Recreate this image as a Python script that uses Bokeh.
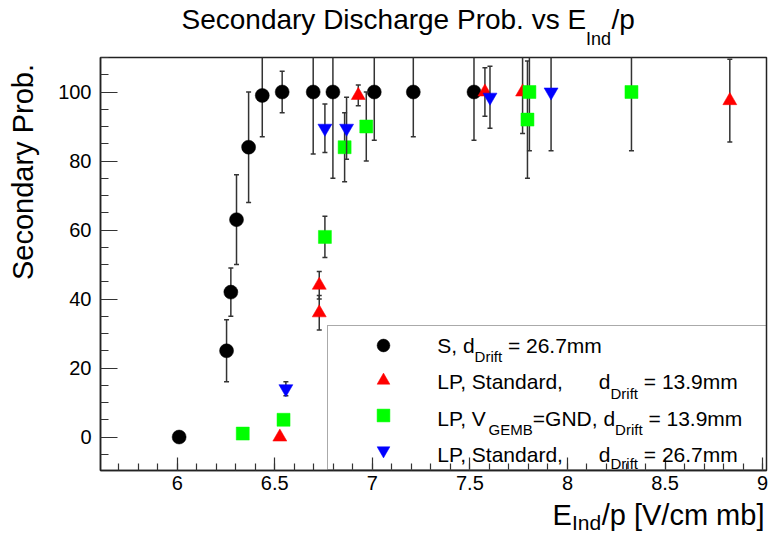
import math
from bokeh.plotting import figure
from bokeh.layouts import column, row
from bokeh.models import (Range1d, SingleIntervalTicker, CustomJSTickFormatter, Label,
                          Legend, LegendItem)
from bokeh.core.properties import value
from bokeh.embed import file_html
from bokeh.resources import INLINE

# ---- data ----
# S, d_Drift = 26.7mm
s_x = [6.010, 6.253, 6.275, 6.304, 6.366, 6.436, 6.538, 6.697, 6.798, 7.010, 7.210, 7.521]
s_y = [0, 25, 42, 63, 84, 99, 100, 100, 100, 100, 100, 100]
s_err = [0, 9, 7, 13, 16, 12, 6, 18, 25, 14, 13, 14]

# LP, Standard, d_Drift = 13.9mm
lp139_x = [6.526, 6.728, 6.728, 6.928, 7.577, 7.770, 8.832]
lp139_y = [0, 44, 36, 99, 100, 100, 97.5]
lp139_err = [0, 4, 5, 3, 7, 12, 12]

# LP, V_GEMB=GND, d_Drift = 13.9mm
gnd_x = [6.336, 6.545, 6.757, 6.858, 6.969, 7.795, 7.805, 8.328]
gnd_y = [1, 5, 58, 84, 90, 92, 100, 100]
gnd_err = [0, 0, 6, 10, 10, 17, 17, 17]

# LP, Standard, d_Drift = 26.7mm
lp267_x = [6.557, 6.757, 6.868, 7.603, 7.916]
lp267_y = [14, 89.5, 89.5, 98.5, 100]
lp267_err = [2, 7, 9, 9, 17]

x_ticks_interval = 0.5
y_ticks_interval = 20

FONT = "Liberation Sans"
MID = 0.3465  # distance baseline -> middle of text box, in em
W, H = 772, 534
TOP_H = 55
LEFT_W = 48
MAIN_H = 443
BOT_H = H - TOP_H - MAIN_H


def text_fig(w, h):
    f = figure(width=w, height=h, x_range=Range1d(0, w), y_range=Range1d(0, h),
               x_axis_type=None, y_axis_type=None, output_backend="svg",
               toolbar_location=None, min_border=0, title=None)
    f.outline_line_color = None
    f.xgrid.visible = False
    f.ygrid.visible = False
    return f


def txt(f, fig_bottom, x, base_y, text, size):
    """place text with its baseline at page row base_y"""
    f.text(x=[x], y=[fig_bottom - (base_y - MID * size)], text=[text],
           text_font=value(FONT), text_font_size=f"{size}px",
           text_color="black", text_baseline="middle", text_align="left")


# ---- main plot ----
p = figure(width=W - LEFT_W, height=MAIN_H, title=None,
           x_range=Range1d(5.607, 9.02), y_range=Range1d(-9.7, 110),
           output_backend="svg", toolbar_location=None,
           min_border_left=52, min_border_right=6, min_border_top=2, min_border_bottom=28)

p.xgrid.visible = False
p.ygrid.visible = False
p.outline_line_color = "#222222"
p.outline_line_width = 1.5

p.xaxis.ticker = SingleIntervalTicker(interval=x_ticks_interval, num_minor_ticks=5)
p.yaxis.ticker = SingleIntervalTicker(interval=y_ticks_interval, num_minor_ticks=4)
p.xaxis.formatter = CustomJSTickFormatter(code="return String(Math.round(tick*10)/10)")

for ax in p.axis:
    ax.major_tick_out = 0
    ax.minor_tick_out = 0
    ax.axis_line_color = "#222222"
    ax.axis_line_width = 1.5
    ax.major_tick_line_color = "#333333"
    ax.minor_tick_line_color = "#333333"
    ax.major_tick_line_width = 1.2
    ax.minor_tick_line_width = 1.2
    ax.major_label_text_font = FONT
    ax.major_label_text_font_size = "20px"
    ax.major_label_text_color = "black"
p.xaxis.major_tick_in = 13
p.xaxis.minor_tick_in = 7
p.xaxis.major_label_standoff = 5
p.yaxis.major_tick_in = 17
p.yaxis.minor_tick_in = 8
p.yaxis.major_label_standoff = 9

ERR_COLOR = "#333333"


def series(xs, ys, errs, marker, color, size):
    lo = [y - e for y, e in zip(ys, errs)]
    hi = [y + e for y, e in zip(ys, errs)]
    p.segment(x0=xs, y0=lo, x1=xs, y1=hi, line_color=ERR_COLOR, line_width=1.5)
    p.scatter(x=xs, y=lo, marker="dash", size=5, line_color=ERR_COLOR, line_width=1.5)
    p.scatter(x=xs, y=hi, marker="dash", size=5, line_color=ERR_COLOR, line_width=1.5)
    return p.scatter(x=xs, y=ys, marker=marker, size=size, fill_color=color,
                     line_color=color, line_width=0.5)


r_s = series(s_x, s_y, s_err, "circle", "black", 14)
r_lp139 = series(lp139_x, lp139_y, lp139_err, "triangle", "#ff0000", 14)
r_gnd = series(gnd_x, gnd_y, gnd_err, "square", "#00ff00", 13)
r_lp267 = series(lp267_x, lp267_y, lp267_err, "inverted_triangle", "#0000ff", 14)

legend = Legend(items=[LegendItem(label=" ", renderers=[r_s]),
                       LegendItem(label=" ", renderers=[r_lp139]),
                       LegendItem(label=" ", renderers=[r_gnd]),
                       LegendItem(label=" ", renderers=[r_lp267])],
                location=(226.7, 0), margin=0, padding=3, spacing=3,
                glyph_height=32, glyph_width=104, label_height=32, label_width=320,
                label_standoff=10, border_line_color="#555555", border_line_width=1.5,
                background_fill_color="white", background_fill_alpha=0.0,
                label_text_font=FONT, label_text_font_size="21px")
p.add_layout(legend)


def lab(text, x, base_y, size):
    # x, base_y relative to the frame's lower-left corner (baseline position)
    p.add_layout(Label(x=x, y=base_y + MID * size, x_units="screen", y_units="screen",
                       text=text, text_font=FONT, text_font_size=f"{size}px",
                       text_color="black", text_baseline="middle", level="overlay"))


# legend texts
lab("S, d", 336.7, 118, 21)
lab("Drift", 374.1, 109, 15)
lab("= 26.7mm", 407.4, 118, 21)

lab("LP, Standard,", 336.7, 81.3, 21)
lab("d", 498.3, 81.3, 21)
lab("Drift", 510.0, 72.3, 15)
lab("= 13.9mm", 543.3, 81.3, 21)

lab("LP, V", 336.7, 44.7, 21)
lab("GEMB", 388.1, 35.7, 15)
lab("=GND, d", 432.3, 44.7, 21)
lab("Drift", 514.6, 35.7, 15)
lab("= 13.9mm", 547.9, 44.7, 21)

lab("LP, Standard,", 336.7, 9, 21)
lab("d", 498.3, 9, 21)
lab("Drift", 510.0, 1.5, 15)
lab("= 26.7mm", 543.3, 9, 21)

# ---- title strip ----
ft = text_fig(W, TOP_H)
txt(ft, TOP_H, 181, 29, "Secondary Discharge Prob. vs E", 28)
txt(ft, TOP_H, 585.6, 45, "Ind", 18)
txt(ft, TOP_H, 611, 29, "/p", 28)

# ---- y title strip ----
fl = text_fig(LEFT_W, MAIN_H)
fl.text(x=[33 - MID * 29], y=[MAIN_H - (62 - TOP_H)], text=["Secondary Prob."],
        text_font=value(FONT), text_font_size="29px", text_color="black",
        text_baseline="middle", text_align="right", angle=math.pi / 2)

# ---- x title strip ----
fb = text_fig(W, BOT_H)
fb_bottom = TOP_H + MAIN_H + BOT_H
txt(fb, fb_bottom, 552, 525, "E", 29)
txt(fb, fb_bottom, 571.5, 529.3, "Ind", 21)
txt(fb, fb_bottom, 601.2, 525, "/p [V/cm mb]", 29)

layout = column(ft, row(fl, p, spacing=0), fb, spacing=0)

open("out.html", "w").write(file_html(layout, INLINE))
